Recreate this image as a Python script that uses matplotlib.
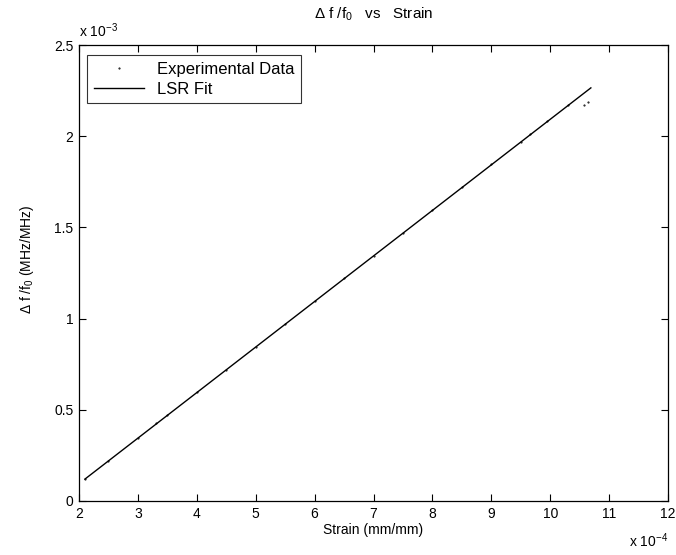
import numpy as np
import matplotlib
matplotlib.use('Agg')
import matplotlib.pyplot as plt

# strain in units of 1e-4, df/f0 in units of 1e-3
strain_e4 = [2.10, 2.50, 3.00, 3.30, 3.50, 4.00, 4.50, 5.00, 5.50, 6.00,
             6.50, 7.00, 7.50, 8.00, 8.50, 9.00, 9.50, 9.65, 9.95, 10.30,
             10.58, 10.64]
df_e3 = [0.120, 0.220, 0.345, 0.425, 0.470, 0.595, 0.720, 0.845, 0.970, 1.095,
         1.220, 1.345, 1.470, 1.595, 1.720, 1.845, 1.970, 2.010, 2.085, 2.170,
         2.170, 2.190]

# least squares fit line end points
fit_strain_e4 = [2.10, 10.69]
fit_df_e3 = [0.120, 2.265]

xticks = [2, 3, 4, 5, 6, 7, 8, 9, 10, 11, 12]
yticks = [0, 0.5, 1, 1.5, 2, 2.5]
ytick_labels = ['0', '0.5', '1', '1.5', '2', '2.5']

plt.rcParams['font.family'] = ['Liberation Sans', 'DejaVu Sans']
plt.rcParams['mathtext.fontset'] = 'custom'
plt.rcParams['mathtext.rm'] = 'Liberation Sans'
plt.rcParams['mathtext.it'] = 'Liberation Sans'

fig = plt.figure(figsize=(6.76, 5.55), dpi=100)
ax = fig.add_axes([0.1169, 0.0973, 0.8713, 0.8216])

ax.plot(strain_e4, df_e3, linestyle='none', marker='.', markersize=1.0,
        color='black', label='Experimental Data')
ax.plot(fit_strain_e4, fit_df_e3, color='black', lw=1.0, label='LSR Fit')

ax.set_xlim(2, 12)
ax.set_ylim(0, 2.5)
ax.set_xticks(xticks)
ax.set_yticks(yticks)
ax.set_yticklabels(ytick_labels)
ax.tick_params(direction='in', length=5, width=0.8, labelsize=10,
               top=True, right=True, pad=4)
for s in ax.spines.values():
    s.set_linewidth(0.9)

ax.set_xlabel('Strain (mm/mm)', fontsize=10, labelpad=2)
ax.set_ylabel(r'$\Delta$ f /f$_0$ (MHz/MHz)', fontsize=10)
ax.yaxis.set_label_coords(-0.073, 0.53)
ax.set_title(r'$\Delta$ f /f$_0$   vs   Strain', fontsize=11, pad=19)

# scale factors
ax.text(0.0, 1.01, r'x 10$^{-3}$', transform=ax.transAxes, fontsize=10,
        ha='left', va='bottom')
ax.text(1.0, -0.088, r'x 10$^{-4}$', transform=ax.transAxes, fontsize=10,
        ha='right', va='center')

leg = ax.legend(loc='upper left', bbox_to_anchor=(0.0136, 0.978),
                borderaxespad=0, fontsize=12, frameon=True, fancybox=False,
                handlelength=3.0, labelspacing=0.3, markerscale=1)
leg.get_frame().set_edgecolor('black')
leg.get_frame().set_linewidth(0.8)

fig.savefig('out.png', dpi=100)
